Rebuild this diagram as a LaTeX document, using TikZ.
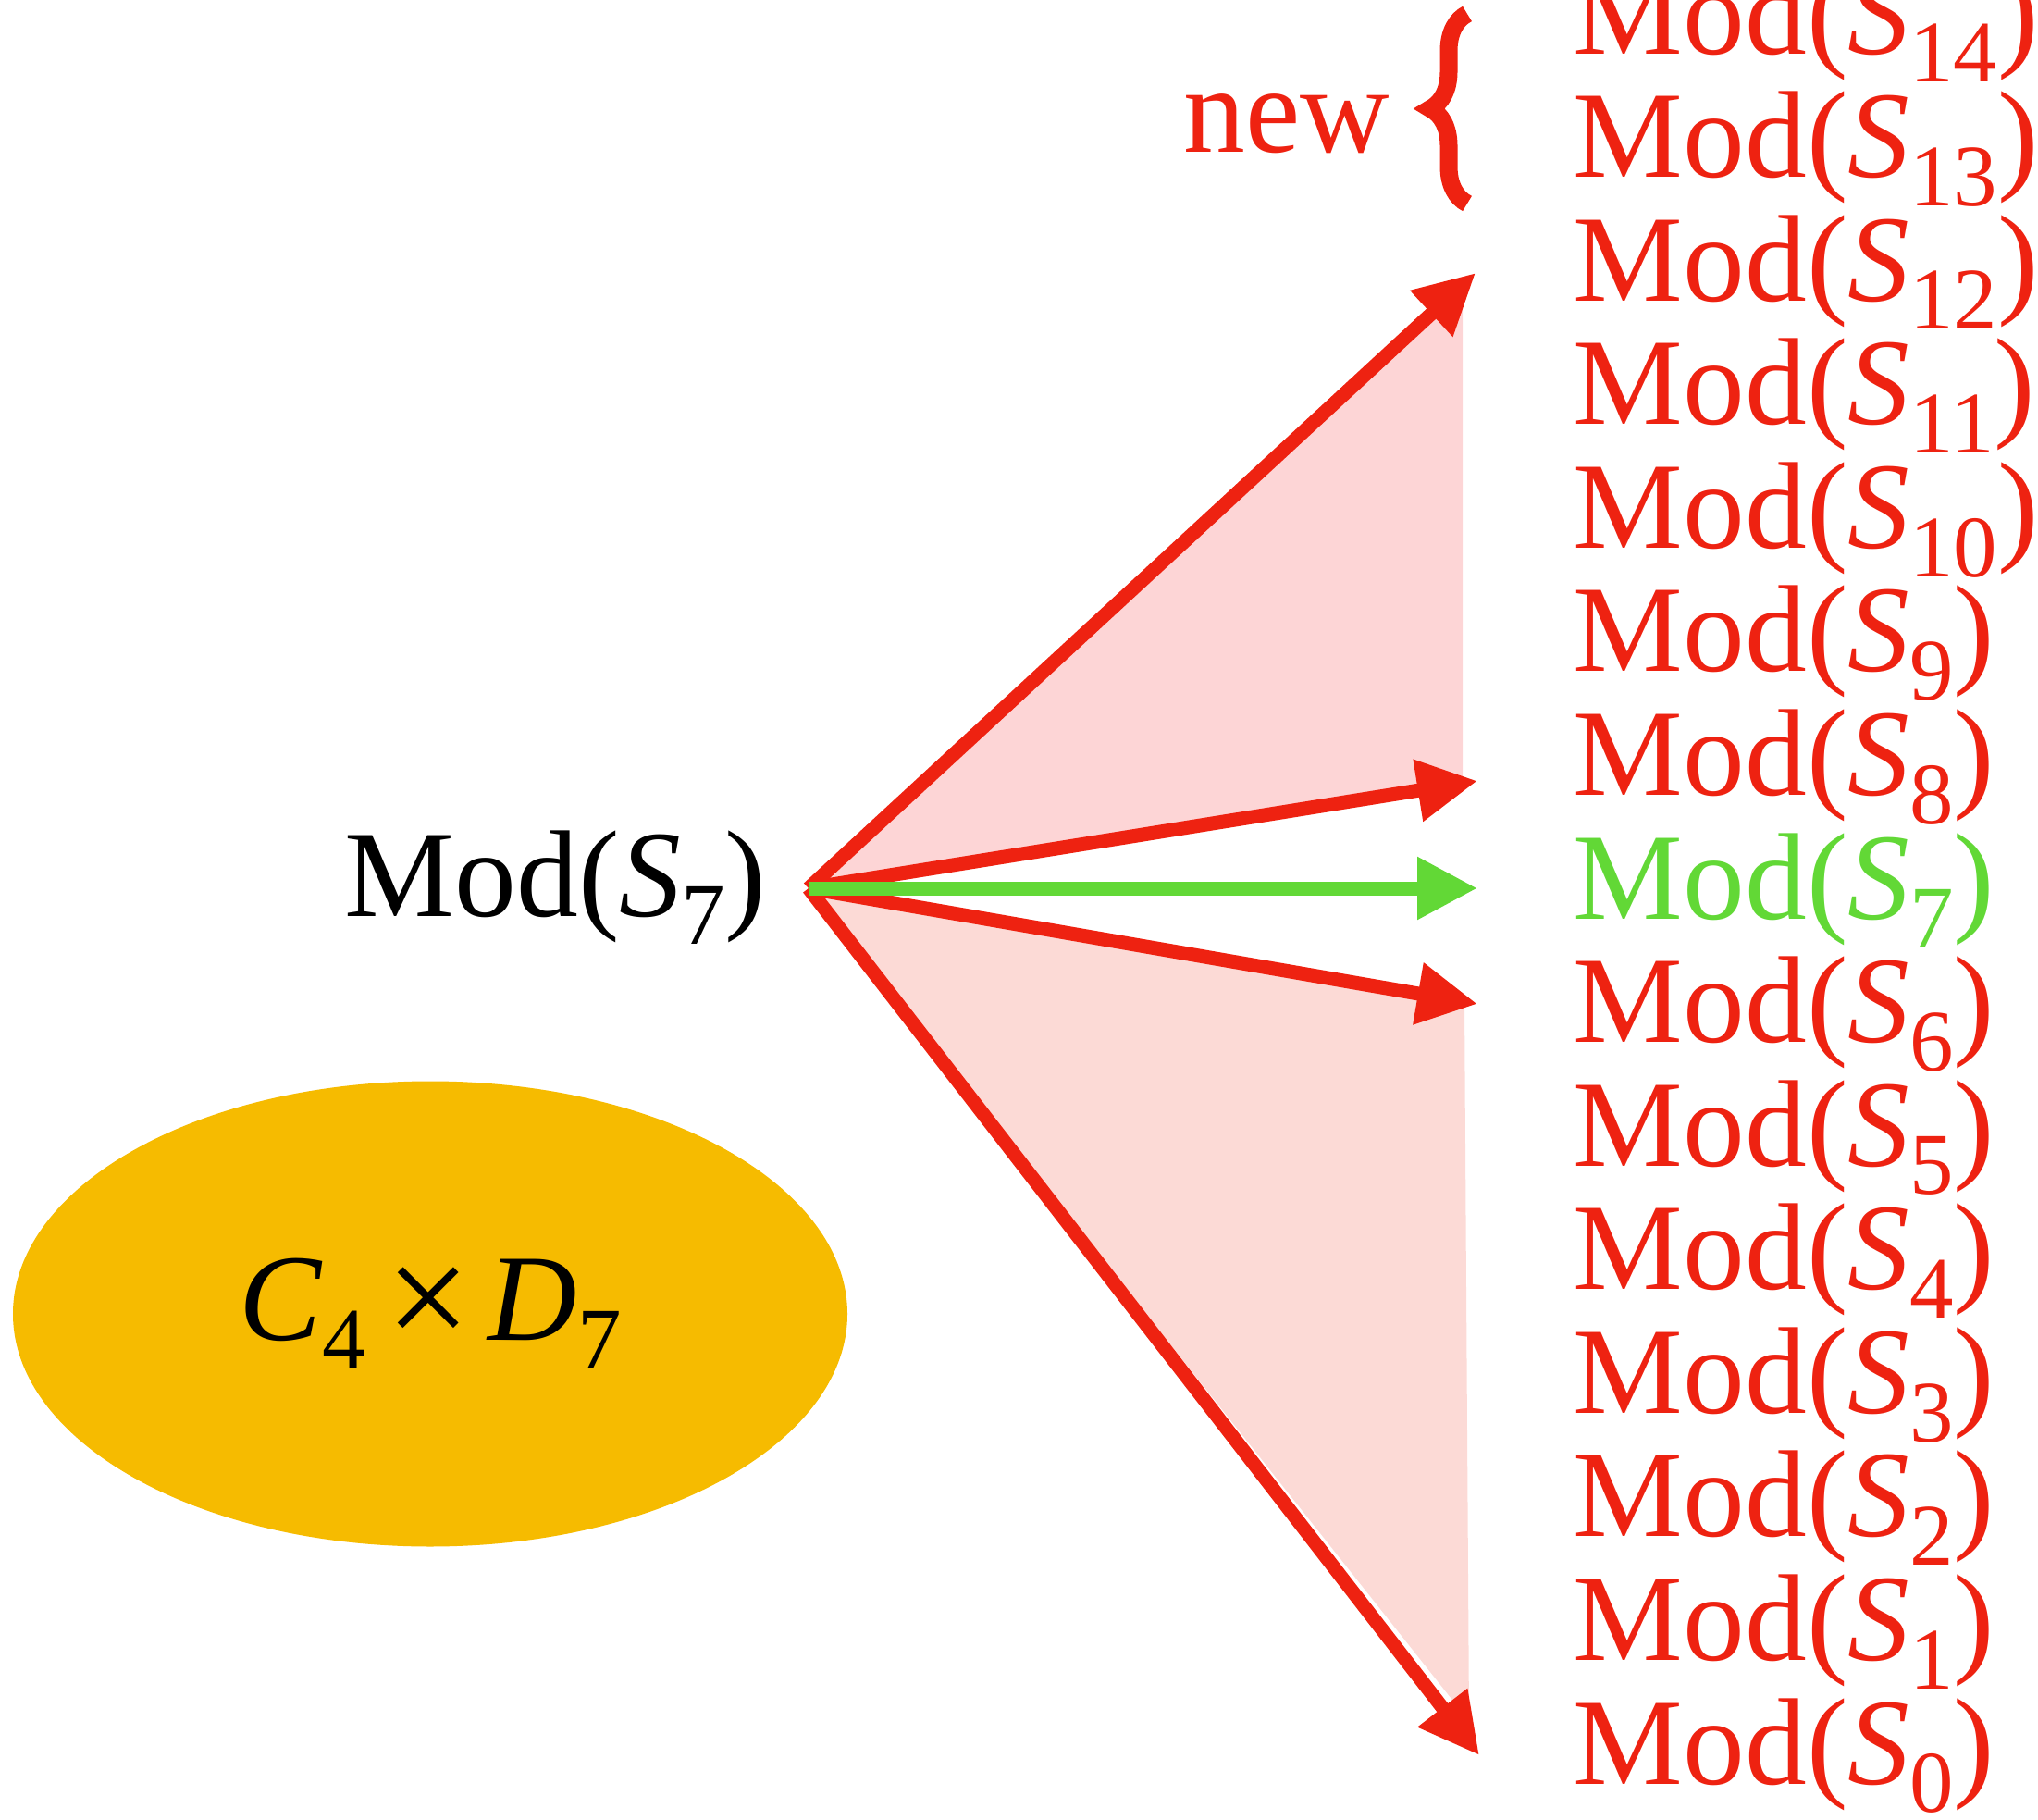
\documentclass[tikz,border=0pt]{standalone}
\usepackage{fontspec}
\setmainfont{Liberation Serif}
\usetikzlibrary{shapes,arrows.meta,decorations.pathreplacing}
\definecolor{redc}{RGB}{238,34,17}
\definecolor{greenc}{RGB}{98,216,54}
\definecolor{gold}{RGB}{246,187,0}
\definecolor{pinkup}{RGB}{253,213,214}
\definecolor{pinklow}{RGB}{252,218,214}
\newcommand{\idx}[1]{\raisebox{-0.23em}{\fontsize{27}{27}\selectfont #1}}
\newcommand{\modS}[1]{Mod(\textit{S}\idx{#1})}
\newcommand{\bigtimes}{\raisebox{-0.06em}{\fontsize{46}{46}\selectfont ×}}
\tikzset{lbl/.style={inner sep=0pt, font=\fontsize{38}{40}\selectfont},
  fan/.style={line width=0.15cm, -{Triangle[length=0.65cm,width=0.64cm]}}}

\begin{document}
\begin{tikzpicture}
\useasboundingbox (0,0) rectangle (22.03,-19.67);
\node[ellipse, fill=gold, minimum width=9.02cm, minimum height=5.03cm, lbl] (grp) at (4.65,-14.2) {\textit{C}\idx{4}\kern0.16em\bigtimes\kern0.14em\textit{D}\idx{7}};
\node[lbl, anchor=base east] (src) at (8.29,-9.9) {\modS{7}};
\coordinate (hub) at (8.74,-9.6);
% targets on the right
\foreach \i in {0,...,6,8,9,...,14}
  \node[lbl, text=redc, anchor=base west] (m\i) at (17.0,{-19.28+\i*1.3357}) {\modS{\i}};
\node[lbl, text=greenc, anchor=base west] (m7) at (17.0,{-19.28+7*1.3357}) {\modS{7}};
\node[lbl, text=redc, anchor=base east] (newlbl) at (15.03,-1.65) {new};
\draw[redc, line width=0.19cm, decorate, decoration={brace, amplitude=0.4cm}] (15.86,-2.2) -- (15.86,-0.15);
\coordinate (t12) at (15.95,-2.95);
\coordinate (t8) at (15.97,-8.44);
\coordinate (t7) at (15.97,-9.6);
\coordinate (t6) at (15.97,-10.85);
\coordinate (t0) at (15.99,-18.97);
\fill[pinkup] (hub) -- (15.81,-3.05) -- (15.81,-8.45) -- cycle;
\fill[pinklow] (hub) -- (15.83,-10.85) -- (15.88,-18.6) -- cycle;
\draw[fan, redc] (hub) -- (t12);
\draw[fan, redc] (hub) -- (t8);
\draw[fan, redc] (hub) -- (t6);
\draw[fan, redc] (hub) -- (t0);
\draw[fan, greenc] (hub) -- (t7);
\end{tikzpicture}
\end{document}
